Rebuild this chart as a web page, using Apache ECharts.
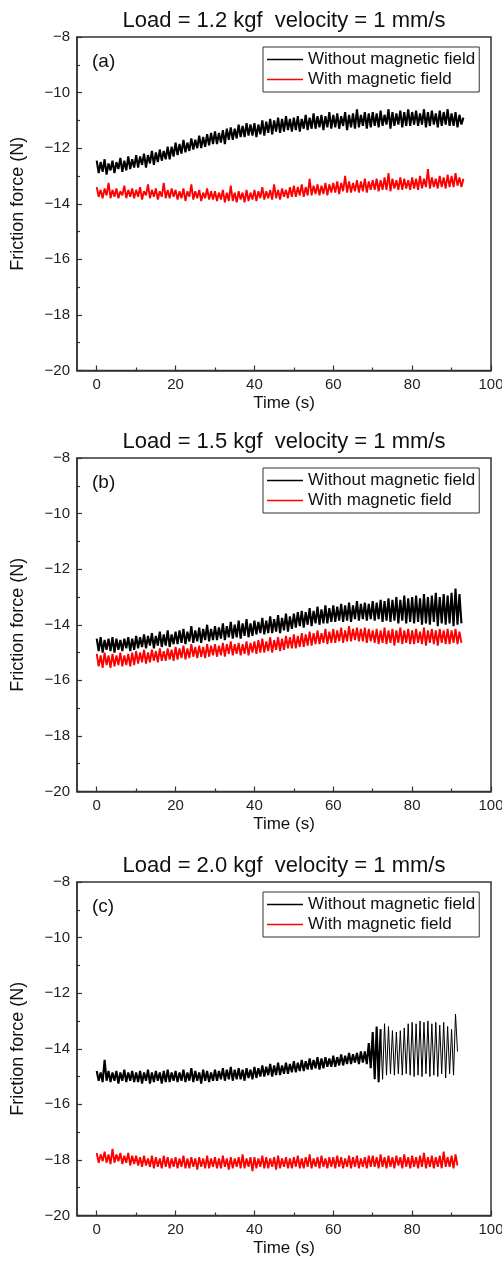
<!DOCTYPE html>
<html>
<head>
<meta charset="utf-8">
<script src="https://cdn.jsdelivr.net/npm/echarts@6/dist/echarts.min.js"></script>
<style>
  html, body { margin: 0; padding: 0; background: #fff; }
  #chart { width: 502px; height: 1263px; }
</style>
</head>
<body>
<div id="chart"></div>
<script>
// sample step of the friction traces (s)
const dt = 0.5

const titles = ['Load = 1.2 kgf  velocity = 1 mm/s', 'Load = 1.5 kgf  velocity = 1 mm/s', 'Load = 2.0 kgf  velocity = 1 mm/s']
const panelTags = ['(a)', '(b)', '(c)']
const seriesNames = ['Without magnetic field', 'With magnetic field']
const xLabels = [0, 20, 40, 60, 80, 100]
const xMinor = [10, 30, 50, 70, 90]

// (a) load 1.2 kgf
const noFieldA = [
  -12.45,-12.9,-12.5,-12.85,-12.4,-12.95,-12.55,-12.8,-12.45,-12.9,-12.5,-12.75,-12.35,-12.85,-12.45,-12.8,-12.3,-12.75,-12.4,-12.7,
  -12.25,-12.7,-12.3,-12.6,-12.2,-12.7,-12.25,-12.55,-12.1,-12.6,-12.15,-12.5,-12.05,-12.45,-12.1,-12.4,-11.95,-12.4,-11.95,-12.3,
  -11.8,-12.25,-11.85,-12.2,-11.7,-12.15,-11.8,-12.1,-11.65,-12.05,-11.7,-12.0,-11.55,-12.0,-11.6,-11.95,-11.5,-11.9,-11.45,-11.85,
  -11.4,-11.85,-11.45,-11.8,-11.35,-11.85,-11.3,-11.7,-11.25,-11.7,-11.3,-11.65,-11.15,-11.6,-11.2,-11.6,-11.1,-11.55,-11.15,-11.55,
  -11.1,-11.6,-11.15,-11.5,-11.0,-11.55,-11.05,-11.45,-10.95,-11.5,-11.0,-11.4,-10.9,-11.45,-10.95,-11.4,-10.85,-11.35,-10.95,-11.4,
  -10.9,-11.35,-10.85,-11.4,-10.95,-11.3,-10.8,-11.35,-10.9,-11.3,-10.75,-11.3,-10.85,-11.25,-10.8,-11.35,-10.85,-11.25,-10.7,-11.3,
  -10.8,-11.25,-10.75,-11.3,-10.85,-11.2,-10.7,-11.35,-10.8,-11.25,-10.75,-11.3,-10.6,-11.25,-10.8,-11.2,-10.7,-11.3,-10.75,-11.25,
  -10.7,-11.2,-10.75,-11.25,-10.65,-11.2,-10.8,-11.15,-10.6,-11.3,-10.7,-11.2,-10.75,-11.15,-10.65,-11.25,-10.7,-11.2,-10.6,-11.2,
  -10.7,-11.15,-10.65,-11.2,-10.75,-11.15,-10.6,-11.25,-10.7,-11.2,-10.65,-11.15,-10.75,-11.25,-10.65,-11.2,-10.7,-11.15,-10.6,-11.2,
  -10.75,-11.2,-10.7,-11.25,-10.8,-11.15,-10.9
]
const withFieldA = [
  -13.4,-13.75,-13.5,-13.8,-13.45,-13.7,-13.25,-13.8,-13.5,-13.75,-13.45,-13.8,-13.55,-13.7,-13.35,-13.8,-13.5,-13.75,-13.45,-13.8,
  -13.5,-13.75,-13.4,-13.85,-13.55,-13.7,-13.3,-13.8,-13.5,-13.75,-13.45,-13.85,-13.55,-13.75,-13.25,-13.8,-13.5,-13.8,-13.45,-13.75,
  -13.5,-13.85,-13.55,-13.8,-13.45,-13.9,-13.55,-13.75,-13.3,-13.85,-13.55,-13.8,-13.5,-13.9,-13.6,-13.8,-13.45,-13.85,-13.55,-13.85,
  -13.55,-13.9,-13.6,-13.85,-13.5,-13.95,-13.6,-13.9,-13.35,-13.9,-13.6,-13.95,-13.55,-13.85,-13.6,-13.95,-13.5,-13.9,-13.6,-13.85,
  -13.5,-13.9,-13.55,-13.8,-13.4,-13.85,-13.55,-13.8,-13.5,-13.85,-13.3,-13.8,-13.5,-13.85,-13.45,-13.75,-13.5,-13.8,-13.4,-13.75,
  -13.35,-13.75,-13.4,-13.7,-13.3,-13.75,-13.4,-13.7,-13.1,-13.7,-13.35,-13.65,-13.3,-13.7,-13.35,-13.65,-13.25,-13.7,-13.3,-13.6,
  -13.25,-13.6,-13.2,-13.65,-13.25,-13.55,-13.0,-13.6,-13.2,-13.6,-13.25,-13.55,-13.15,-13.6,-13.2,-13.55,-13.1,-13.6,-13.2,-13.5,
  -13.15,-13.5,-13.1,-13.55,-13.15,-13.5,-13.05,-13.5,-12.9,-13.55,-13.1,-13.45,-13.15,-13.5,-13.05,-13.5,-13.1,-13.45,-13.15,-13.5,
  -13.05,-13.45,-13.1,-13.5,-13.0,-13.45,-13.1,-13.4,-12.75,-13.45,-13.05,-13.4,-13.1,-13.45,-13.0,-13.4,-13.05,-13.45,-12.95,-13.4,
  -13.0,-13.4,-12.9,-13.35,-13.05,-13.4,-13.1
]

// (b) load 1.5 kgf
const noFieldB = [
  -14.5,-14.95,-14.45,-15.0,-14.55,-14.9,-14.5,-14.95,-14.45,-15.0,-14.5,-14.9,-14.55,-14.95,-14.5,-14.85,-14.45,-14.95,-14.5,-14.9,
  -14.4,-14.85,-14.45,-14.8,-14.35,-14.85,-14.4,-14.75,-14.3,-14.85,-14.4,-14.75,-14.25,-14.8,-14.35,-14.75,-14.2,-14.8,-14.35,-14.7,
  -14.25,-14.7,-14.2,-14.65,-14.15,-14.7,-14.25,-14.6,-14.05,-14.65,-14.2,-14.6,-14.1,-14.65,-14.15,-14.55,-14.0,-14.6,-14.15,-14.55,
  -14.05,-14.55,-14.1,-14.5,-13.95,-14.55,-14.05,-14.45,-13.9,-14.5,-14.0,-14.45,-13.85,-14.5,-13.95,-14.4,-13.8,-14.45,-13.95,-14.4,
  -13.85,-14.35,-13.9,-14.3,-13.75,-14.35,-13.85,-14.3,-13.7,-14.3,-13.8,-14.25,-13.65,-14.3,-13.75,-14.2,-13.6,-14.25,-13.7,-14.15,
  -13.6,-14.1,-13.55,-14.05,-13.5,-14.1,-13.55,-14.0,-13.4,-14.05,-13.5,-13.95,-13.35,-14.0,-13.45,-13.95,-13.3,-13.95,-13.4,-13.9,
  -13.3,-13.9,-13.35,-13.85,-13.25,-13.9,-13.3,-13.85,-13.2,-13.9,-13.3,-13.8,-13.15,-13.85,-13.25,-13.8,-13.2,-13.85,-13.25,-13.8,
  -13.15,-13.85,-13.2,-13.8,-13.1,-13.9,-13.15,-13.85,-13.05,-13.9,-13.1,-13.85,-13.0,-13.95,-13.1,-13.85,-12.95,-13.95,-13.05,-13.9,
  -13.0,-13.95,-12.95,-13.9,-13.05,-14.0,-12.9,-13.95,-13.0,-14.0,-12.95,-13.9,-12.85,-14.05,-13.0,-13.95,-12.9,-14.0,-12.95,-13.95,
  -12.85,-14.05,-12.7,-14.0,-12.9,-13.95
]
const withFieldB = [
  -15.05,-15.5,-15.1,-15.55,-15.0,-15.45,-15.1,-15.55,-15.05,-15.5,-15.1,-15.45,-15.0,-15.5,-15.1,-15.45,-15.05,-15.5,-15.0,-15.45,
  -14.95,-15.4,-15.0,-15.35,-14.9,-15.4,-15.0,-15.35,-14.9,-15.3,-14.95,-15.35,-14.85,-15.3,-14.95,-15.3,-14.85,-15.25,-14.9,-15.3,
  -14.8,-15.25,-14.85,-15.2,-14.75,-15.25,-14.85,-15.2,-14.7,-15.15,-14.8,-15.2,-14.75,-15.15,-14.8,-15.2,-14.7,-15.15,-14.75,-15.1,
  -14.7,-15.15,-14.75,-15.1,-14.65,-15.15,-14.7,-15.05,-14.6,-15.1,-14.7,-15.05,-14.65,-15.1,-14.7,-15.05,-14.6,-15.1,-14.65,-15.0,
  -14.6,-15.05,-14.55,-15.0,-14.5,-15.0,-14.6,-14.95,-14.45,-15.0,-14.55,-14.9,-14.45,-14.95,-14.5,-14.9,-14.4,-14.85,-14.45,-14.85,
  -14.35,-14.85,-14.4,-14.8,-14.3,-14.8,-14.35,-14.75,-14.25,-14.75,-14.3,-14.7,-14.2,-14.7,-14.3,-14.65,-14.15,-14.7,-14.25,-14.65,
  -14.15,-14.65,-14.2,-14.6,-14.1,-14.65,-14.2,-14.6,-14.05,-14.6,-14.15,-14.55,-14.1,-14.6,-14.15,-14.6,-14.1,-14.65,-14.15,-14.6,
  -14.2,-14.65,-14.15,-14.7,-14.2,-14.65,-14.1,-14.7,-14.2,-14.65,-14.15,-14.75,-14.2,-14.65,-14.1,-14.7,-14.2,-14.65,-14.15,-14.7,
  -14.2,-14.7,-14.15,-14.65,-14.25,-14.7,-14.1,-14.75,-14.2,-14.65,-14.15,-14.7,-14.2,-14.75,-14.15,-14.65,-14.2,-14.7,-14.15,-14.7,
  -14.2,-14.65,-14.15,-14.7,-14.25,-14.65
]

// (c) load 2.0 kgf, stick-slip starts at 70 s
const noFieldC = [
  -14.8,-15.15,-14.85,-15.2,-14.4,-15.15,-14.8,-15.2,-14.85,-15.15,-14.8,-15.25,-14.85,-15.15,-14.75,-15.2,-14.85,-15.15,-14.8,-15.2,
  -14.85,-15.2,-14.8,-15.25,-14.85,-15.15,-14.75,-15.25,-14.85,-15.2,-14.8,-15.15,-14.85,-15.25,-14.8,-15.2,-14.75,-15.2,-14.85,-15.15,
  -14.8,-15.2,-14.85,-15.15,-14.75,-15.2,-14.85,-15.15,-14.7,-15.2,-14.8,-15.15,-14.85,-15.25,-14.75,-15.15,-14.8,-15.2,-14.85,-15.15,
  -14.75,-15.15,-14.8,-15.1,-14.7,-15.15,-14.75,-15.1,-14.65,-15.15,-14.75,-15.1,-14.7,-15.1,-14.75,-15.15,-14.7,-15.05,-14.75,-15.1,
  -14.65,-15.05,-14.7,-15.0,-14.6,-15.0,-14.65,-14.95,-14.55,-15.0,-14.6,-14.95,-14.5,-14.95,-14.6,-14.9,-14.5,-14.9,-14.55,-14.85,
  -14.45,-14.85,-14.5,-14.8,-14.4,-14.8,-14.45,-14.75,-14.35,-14.75,-14.4,-14.7,-14.3,-14.75,-14.35,-14.7,-14.3,-14.65,-14.35,-14.65,
  -14.25,-14.65,-14.3,-14.6,-14.2,-14.6,-14.25,-14.55,-14.15,-14.55,-14.2,-14.5,-14.15,-14.55,-14.1,-14.5,-14.1,-14.55,-13.8,-14.7,
  -13.4,-15.1,-13.2,-15.2,-13.3,-15.1,-13.1,-14.95,-13.2,-14.9,-13.35,-14.95,-13.4,-14.9,-13.35,-14.95,-13.25,-14.9,-13.1,-14.95,
  -13.05,-15.0,-13.1,-14.95,-13.0,-15.0,-13.05,-14.9,-13.0,-15.0,-13.1,-14.95,-13.05,-15.0,-13.15,-14.9,-13.05,-15.05,-13.2,-14.9,
  -13.3,-14.95,-12.75,-14.1
]
const stickSlipStart = 72
const withFieldC = [
  -17.75,-18.1,-17.8,-18.05,-17.7,-18.1,-17.8,-18.15,-17.6,-18.1,-17.8,-18.05,-17.75,-18.15,-17.85,-18.1,-17.75,-18.2,-17.85,-18.15,
  -17.85,-18.2,-17.9,-18.25,-17.85,-18.2,-17.95,-18.25,-17.85,-18.3,-17.9,-18.25,-17.95,-18.3,-17.85,-18.25,-17.9,-18.3,-17.95,-18.25,
  -17.9,-18.3,-17.95,-18.25,-17.85,-18.3,-17.95,-18.3,-17.9,-18.25,-17.95,-18.35,-17.9,-18.25,-17.95,-18.3,-17.85,-18.3,-17.95,-18.25,
  -17.9,-18.3,-17.95,-18.3,-17.85,-18.25,-17.95,-18.35,-17.9,-18.3,-17.95,-18.25,-17.9,-18.3,-17.8,-18.3,-17.95,-18.25,-17.9,-18.4,
  -17.9,-18.3,-17.95,-18.25,-17.85,-18.3,-17.9,-18.3,-17.95,-18.25,-17.9,-18.35,-17.85,-18.3,-17.95,-18.25,-17.9,-18.3,-17.95,-18.3,
  -17.9,-18.25,-17.85,-18.3,-17.95,-18.3,-17.9,-18.25,-17.8,-18.3,-17.95,-18.25,-17.9,-18.3,-17.85,-18.25,-17.95,-18.3,-17.9,-18.25,
  -17.9,-18.3,-17.85,-18.25,-17.9,-18.3,-17.95,-18.25,-17.85,-18.3,-17.9,-18.25,-17.85,-18.3,-17.95,-18.25,-17.9,-18.3,-17.85,-18.25,
  -17.85,-18.25,-17.9,-18.3,-17.8,-18.25,-17.9,-18.3,-17.85,-18.25,-17.9,-18.3,-17.85,-18.2,-17.9,-18.3,-17.8,-18.25,-17.9,-18.3,
  -17.85,-18.25,-17.9,-18.3,-17.85,-18.25,-17.75,-18.3,-17.9,-18.25,-17.85,-18.3,-17.9,-18.25,-17.85,-18.3,-17.7,-18.25,-17.9,-18.25,
  -17.85,-18.3,-17.8,-18.2
]

const panelData = [[noFieldA, withFieldA], [noFieldB, withFieldB], [noFieldC, withFieldC]]
const gridTops = [37, 458, 882]
const lineColors = ['#000000', '#ff0000']
const lineWidths = [2.1, 1.9]
const font = "'Liberation Sans', Arial, sans-serif"
const axisColor = '#333'

// [time, value] pairs from a trace, optionally only part of it
const toPoints = (values, from = 0, to = values.length) =>
  values.slice(from, to).map((v, i) => [(i + from) * dt, v])

let grid = [], xAxis = [], yAxis = [], series = [], title = [], legend = []

const lineSeries = (p, k, data, width) => ({
  name: seriesNames[k], type: 'line', xAxisIndex: p * 2, yAxisIndex: p,
  data: data, showSymbol: false, symbol: 'none', z: 2 + k,
  lineStyle: { color: lineColors[k], width: width }, itemStyle: { color: lineColors[k] },
  animation: false
})

gridTops.forEach((top, p) => {
  grid.push({
    left: 77, right: 11, top: top, height: 333.5, outerBoundsMode: 'none',
    show: true, borderColor: axisColor, borderWidth: 1.5, backgroundColor: 'transparent'
  })

  // main x axis: labels and major ticks
  xAxis.push({
    type: 'value', gridIndex: p, position: 'bottom', min: -5, max: 100,
    name: 'Time (s)', nameLocation: 'middle', nameGap: 24,
    nameTextStyle: { fontFamily: font, fontSize: 17, color: '#111' },
    axisLine: { onZero: false, lineStyle: { color: axisColor, width: 1.5 } },
    axisTick: { inside: true, length: 5, customValues: xLabels, lineStyle: { color: axisColor, width: 1.2 } },
    axisLabel: { customValues: xLabels, margin: 7, fontFamily: font, fontSize: 15, color: '#222' },
    splitLine: { show: false }
  })
  // minor x ticks
  xAxis.push({
    type: 'value', gridIndex: p, position: 'bottom', min: -5, max: 100,
    axisLine: { show: false, onZero: false },
    axisTick: { inside: true, length: 3, customValues: xMinor, lineStyle: { color: axisColor, width: 1.2 } },
    axisLabel: { show: false },
    splitLine: { show: false }
  })

  yAxis.push({
    type: 'value', gridIndex: p, position: 'left', min: -20, max: -8, interval: 2,
    name: 'Friction force (N)', nameLocation: 'middle', nameGap: 50,
    nameTextStyle: { fontFamily: font, fontSize: 18, color: '#111' },
    axisLine: { show: true, onZero: false, lineStyle: { color: axisColor, width: 1.5 } },
    axisTick: { inside: true, length: 5, lineStyle: { color: axisColor, width: 1.2 } },
    minorTick: { show: true, splitNumber: 2, length: 3, lineStyle: { color: axisColor, width: 1.2 } },
    axisLabel: { margin: 7, fontFamily: font, fontSize: 15, color: '#222', formatter: v => String(v).replace('-', '\u2212') },
    splitLine: { show: false }
  })

  panelData[p].forEach((values, k) => {
    if (p === 2 && k === 0) {
      // dense sliding part, then the thinner stick-slip oscillation
      const cut = stickSlipStart / dt
      series.push(lineSeries(p, k, toPoints(values, 0, cut + 1), lineWidths[k]))
      series.push(lineSeries(p, k, toPoints(values, cut), 1))
    } else {
      series.push(lineSeries(p, k, toPoints(values), lineWidths[k]))
    }
  })

  title.push({
    text: titles[p], left: 284, top: top - 27, textAlign: 'center', padding: 0,
    textStyle: { fontFamily: font, fontSize: 22, fontWeight: 'normal', color: '#111' }
  })
  title.push({
    text: panelTags[p], left: 92, top: top + 15, padding: 0,
    textStyle: { fontFamily: font, fontSize: 19, fontWeight: 'normal', color: '#111' }
  })

  legend.push({
    data: seriesNames, orient: 'vertical', left: 263, top: top + 10,
    padding: [4, 4, 4, 4], itemGap: 3, itemWidth: 36, itemHeight: 1.5, icon: 'rect',
    borderColor: axisColor, borderWidth: 1,
    textStyle: { fontFamily: font, fontSize: 17, color: '#111' },
    selectedMode: false
  })
})

const chart = echarts.init(document.getElementById('chart'))
chart.setOption({
  backgroundColor: '#fff',
  animation: false,
  title: title,
  legend: legend,
  grid: grid,
  xAxis: xAxis,
  yAxis: yAxis,
  series: series
})
</script>
</body>
</html>
